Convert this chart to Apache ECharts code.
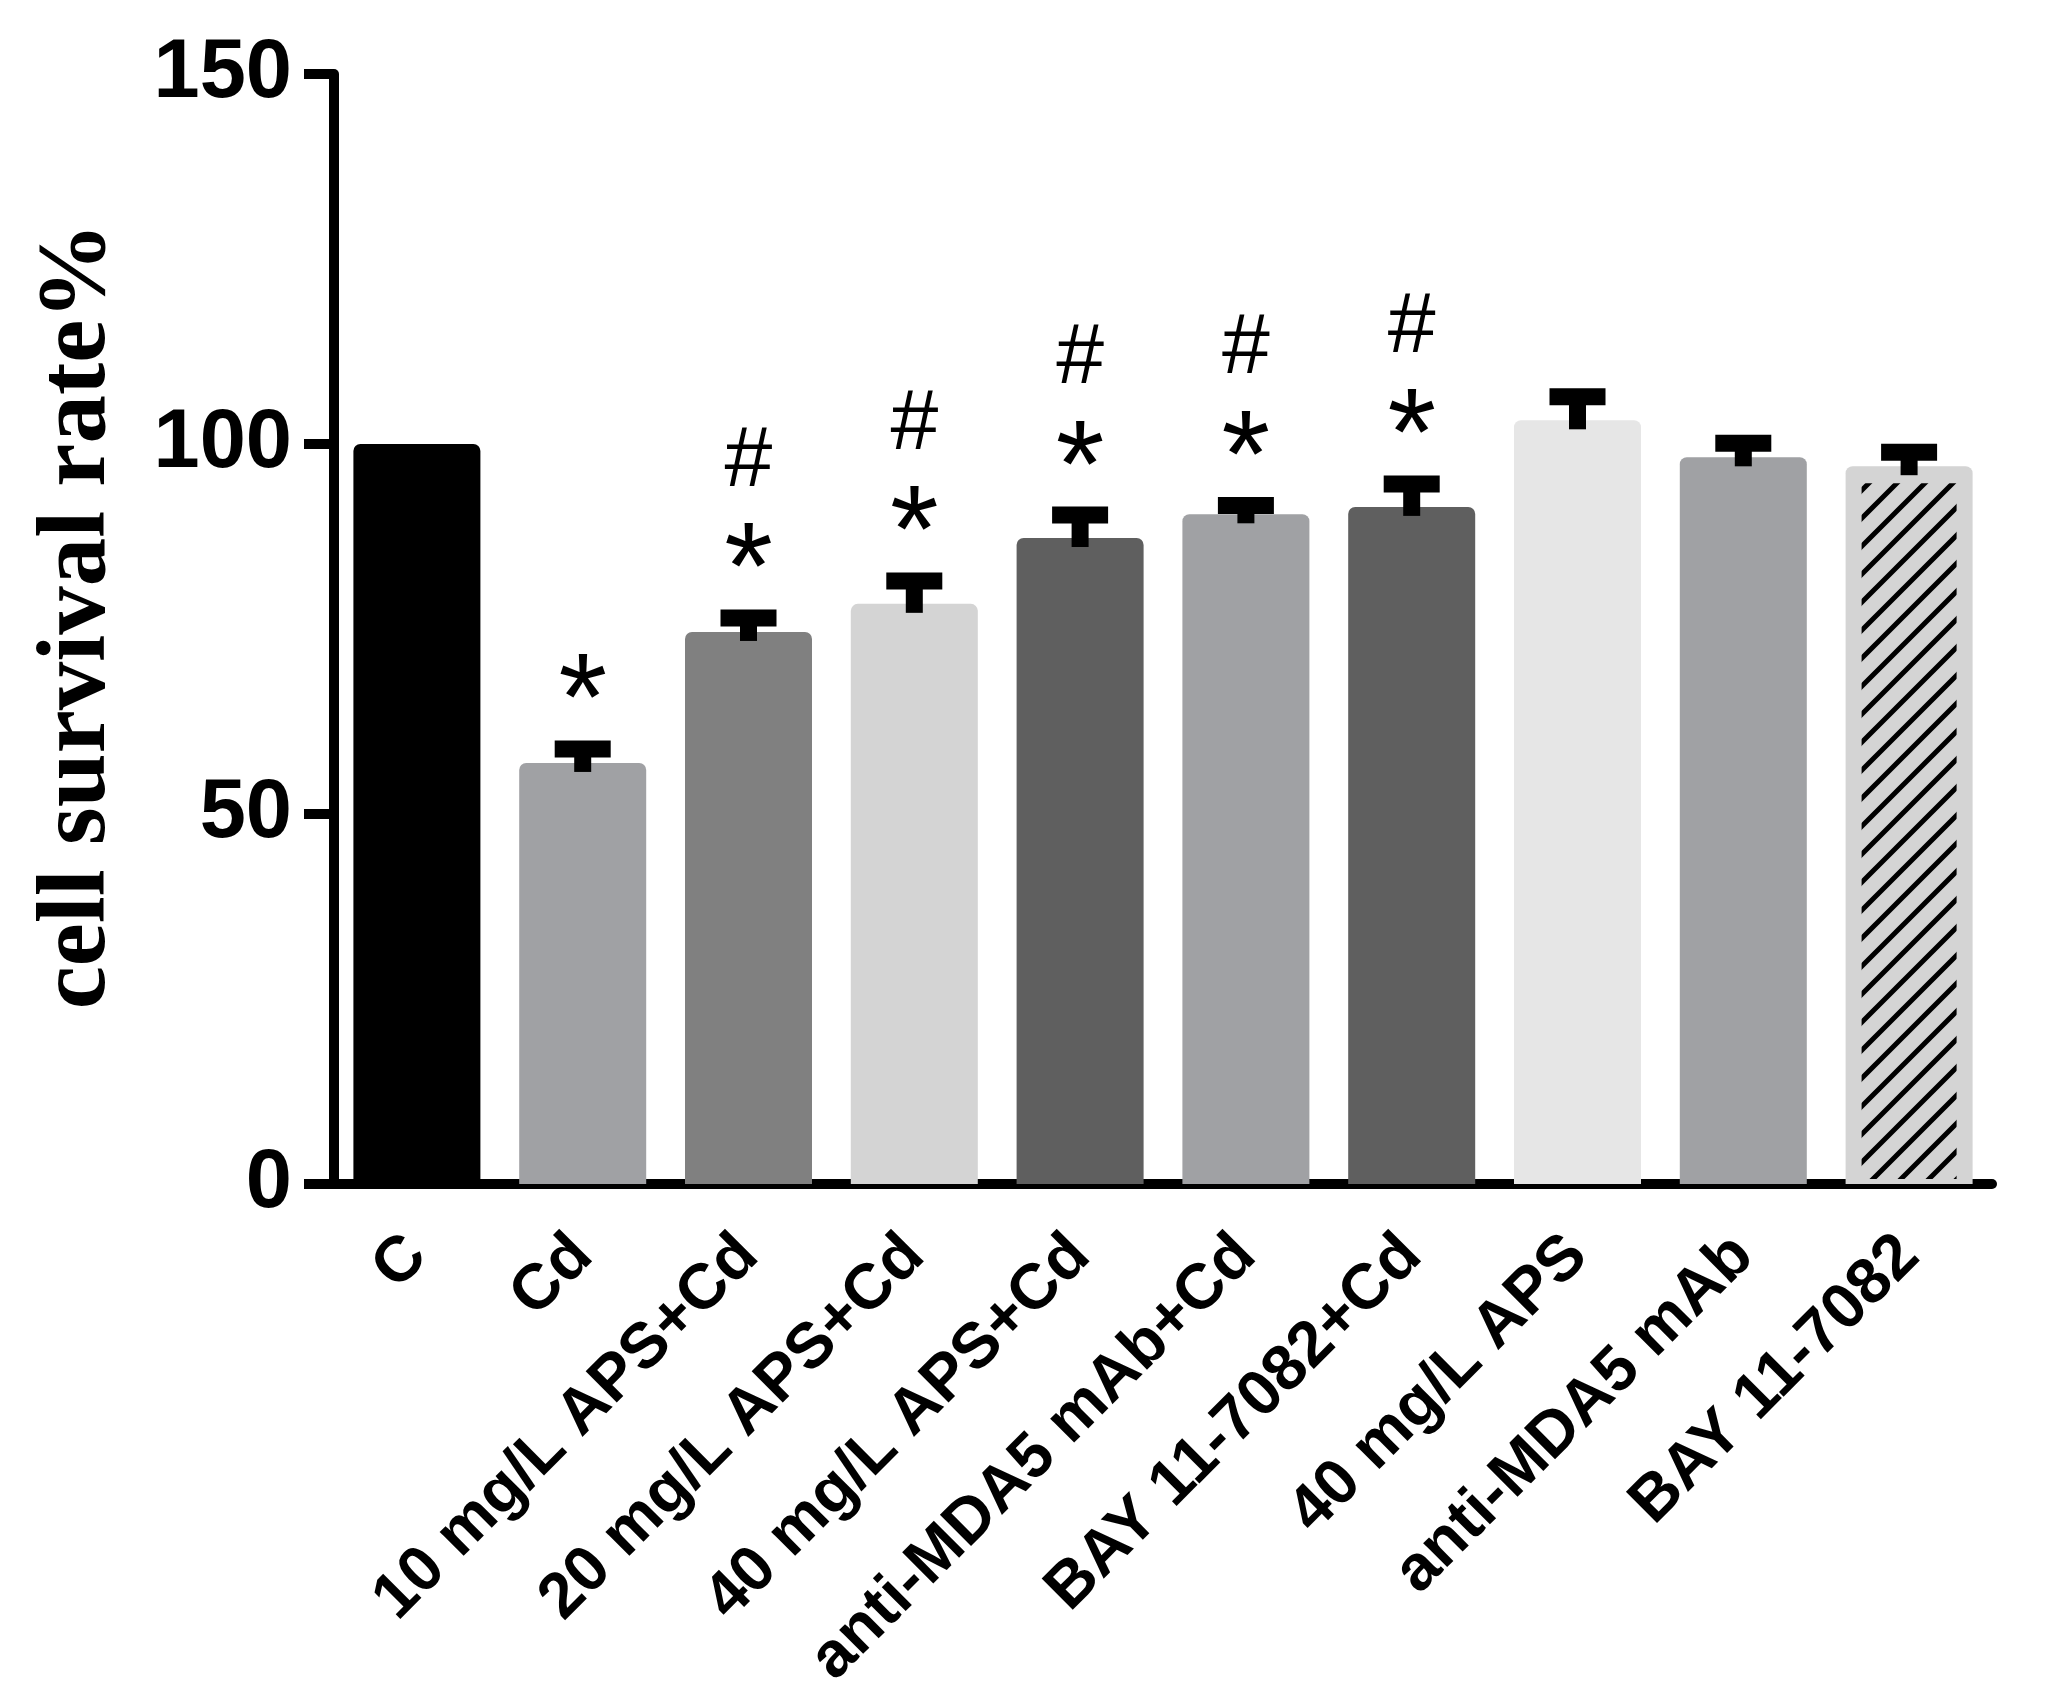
<!DOCTYPE html>
<html>
<head>
<meta charset="utf-8">
<script src="https://cdn.jsdelivr.net/npm/echarts@6/dist/echarts.min.js"></script>
<style>
html, body { margin: 0; padding: 0; background: #fff; }
#container { width: 2045px; height: 1702px; }
</style>
</head>
<body>
<div id="container"></div>
<script>
// groups on the x axis
var categories = ['C', 'Cd', '10 mg/L APS+Cd', '20 mg/L APS+Cd', '40 mg/L APS+Cd',
    'anti-MDA5 mAb+Cd', 'BAY 11-7082+Cd', '40 mg/L APS', 'anti-MDA5 mAb', 'BAY 11-7082'];
// mean survival rate (%) and upper error
var means = [100, 56.9, 74.6, 78.4, 87.3, 90.5, 91.5, 103.2, 98.2, 97.0];
var errs = [0, 1.9, 1.9, 3.1, 3.1, 1.2, 3.1, 3.2, 1.9, 1.9];
// significance marks
var starMarks = ['', '*', '*', '*', '*', '*', '*', '', '', ''];
var hashMarks = ['', '', '#', '#', '#', '#', '#', '', '', ''];
var hatched = [false, false, false, false, false, false, false, false, false, true];
var yTicks = { min: 0, max: 150, step: 50 };

var barColors = ['#000000', '#a0a1a4', '#808080', '#d4d4d4', '#5f5f5f',
    '#a0a1a4', '#5f5f5f', '#e6e6e6', '#a0a1a4', '#d4d4d4'];

var sans = '"Liberation Sans", Arial, sans-serif';

// diagonal hatch tile
var tile = document.createElement('canvas');
tile.width = 28;
tile.height = 28;
var tc = tile.getContext('2d');
tc.strokeStyle = '#000';
tc.lineWidth = 5;
tc.beginPath();
tc.moveTo(-4, 32); tc.lineTo(32, -4);
tc.moveTo(-18, 18); tc.lineTo(18, -18);
tc.moveTo(10, 46); tc.lineTo(46, 10);
tc.stroke();

var dom = document.getElementById('container');
var myChart = echarts.init(dom);

var barData = means.map(function (v, i) {
    return { value: v, itemStyle: { color: barColors[i] } };
});
var errData = means.map(function (v, i) { return [i, v, errs[i]]; });
var hatchData = [];
means.forEach(function (v, i) { if (hatched[i]) hatchData.push([i, v]); });

var option = {
    backgroundColor: '#ffffff',
    animation: false,
    grid: { left: 334, right: 53, top: 74, bottom: 518 },
    xAxis: {
        type: 'category',
        data: categories,
        axisLine: { lineStyle: { color: '#000', width: 10 } },
        axisTick: { alignWithLabel: true, length: 30, lineStyle: { color: '#000', width: 10 } },
        axisLabel: {
            rotate: 45,
            margin: 62,
            color: '#000',
            fontSize: 64,
            fontWeight: 'bold',
            fontFamily: sans,
            interval: 0
        }
    },
    yAxis: {
        type: 'value',
        min: yTicks.min,
        max: yTicks.max,
        interval: yTicks.step,
        name: 'cell survival rate%',
        nameLocation: 'middle',
        nameGap: 207,
        nameTextStyle: {
            color: '#000',
            fontSize: 97,
            fontWeight: 'bold',
            fontFamily: '"Liberation Serif", "Times New Roman", serif',
            padding: [0, 0, 0, 26]
        },
        axisLine: { show: true, lineStyle: { color: '#000', width: 10 } },
        axisTick: { show: true, length: 30, lineStyle: { color: '#000', width: 10 } },
        splitLine: { show: false },
        axisLabel: {
            margin: 42,
            color: '#000',
            fontSize: 83,
            fontWeight: 'bold',
            fontFamily: sans
        }
    },
    series: [
        {
            type: 'bar',
            data: barData,
            barWidth: 127,
            itemStyle: { borderRadius: [7, 7, 0, 0] },
            z: 2
        },
        {
            // hatch inside the last bar
            type: 'custom',
            data: hatchData,
            z: 3,
            renderItem: function (params, api) {
                var i = api.value(0);
                var top = api.coord([i, api.value(1)]);
                var base = api.coord([i, 0]);
                var w = 127 - 32;
                return {
                    type: 'rect',
                    shape: { x: top[0] - w / 2, y: top[1] + 17, width: w, height: base[1] - top[1] - 22 },
                    style: { fill: { image: tile, repeat: 'repeat' } }
                };
            }
        },
        {
            // error bars and significance marks
            type: 'custom',
            data: errData,
            z: 4,
            renderItem: function (params, api) {
                var i = api.value(0), m = api.value(1), e = api.value(2);
                var kids = [];
                if (e > 0) {
                    var cap = api.coord([i, m + e]);
                    var base = api.coord([i, m]);
                    kids.push({
                        type: 'rect',
                        shape: { x: cap[0] - 8.5, y: cap[1], width: 17, height: base[1] - cap[1] + 9 },
                        style: { fill: '#000' }
                    });
                    kids.push({
                        type: 'rect',
                        shape: { x: cap[0] - 28, y: cap[1] - 8.5, width: 56, height: 17 },
                        style: { fill: '#000' }
                    });
                    if (starMarks[params.dataIndex]) {
                        kids.push({
                            type: 'text',
                            style: {
                                text: starMarks[params.dataIndex],
                                x: cap[0], y: cap[1] - 43,
                                textAlign: 'center', textVerticalAlign: 'middle',
                                fontSize: 125, fontFamily: sans, fill: '#000'
                            }
                        });
                    }
                    if (hashMarks[params.dataIndex]) {
                        kids.push({
                            type: 'text',
                            style: {
                                text: hashMarks[params.dataIndex],
                                x: cap[0], y: cap[1] - 156,
                                textAlign: 'center', textVerticalAlign: 'middle',
                                fontSize: 86, fontFamily: sans, fill: '#000'
                            }
                        });
                    }
                }
                return { type: 'group', children: kids };
            }
        }
    ]
};

myChart.setOption(option, true);
</script>
</body>
</html>
